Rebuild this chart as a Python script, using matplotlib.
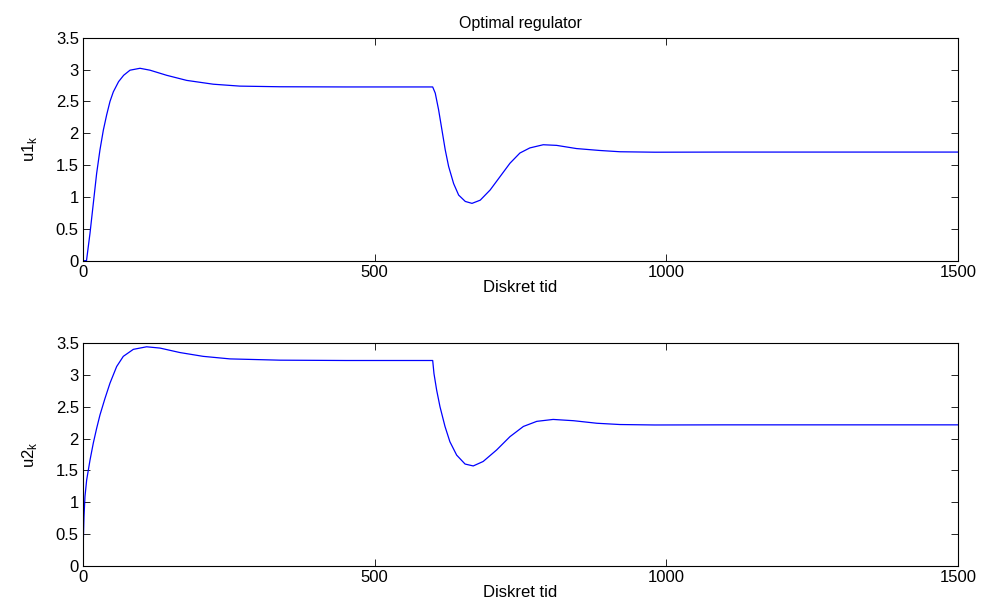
import matplotlib
matplotlib.use("Agg")
import matplotlib.pyplot as plt

plt.rcParams['font.family'] = ['Liberation Sans', 'DejaVu Sans']
plt.rcParams['font.size'] = 12

# values (discrete time k, control signal)
k1 = [0, 6, 12, 17.7, 23.4, 29.1, 34.9, 40.6, 46.3, 52, 61, 69.7, 80.6, 97.7, 114.9,
      143.4, 177.7, 223.4, 269, 337.7, 450, 599.5,
      603.9, 609.6, 615.4, 621, 626.8, 635.4, 644, 655.4, 666.9, 681, 698, 715, 732,
      749, 766, 789, 812, 846, 886, 920.6, 980, 1100, 1500]
u1 = [0, 0, 0.43, 0.90, 1.37, 1.74, 2.05, 2.29, 2.50, 2.65, 2.81, 2.91, 2.99, 3.02, 2.99,
      2.91, 2.83, 2.77, 2.74, 2.73, 2.727, 2.727,
      2.63, 2.37, 2.05, 1.74, 1.48, 1.21, 1.03, 0.93, 0.90, 0.95, 1.11, 1.32, 1.53,
      1.69, 1.77, 1.82, 1.81, 1.76, 1.73, 1.71, 1.703, 1.705, 1.705]

k2 = [0, 0.6, 1.7, 3.4, 6.3, 12, 17.7, 23.4, 29.1, 37.7, 46.3, 57.7, 69.1, 86.3, 109,
      132, 166, 206, 252, 337.7, 450, 599.5,
      601.7, 606.3, 612, 620.6, 629, 640.6, 655, 669, 686, 709, 732, 755, 778, 806,
      841, 881, 920.6, 980, 1100, 1500]
u2 = [0, 0.41, 0.77, 1.09, 1.35, 1.66, 1.93, 2.16, 2.37, 2.63, 2.87, 3.13, 3.29, 3.40, 3.44,
      3.42, 3.35, 3.29, 3.25, 3.23, 3.225, 3.225,
      3.02, 2.76, 2.50, 2.19, 1.95, 1.74, 1.60, 1.57, 1.64, 1.82, 2.03, 2.19, 2.27, 2.30,
      2.28, 2.24, 2.22, 2.213, 2.215, 2.215]

fig = plt.figure(figsize=(9.88, 6.08), dpi=100)
ax1 = fig.add_axes([0.084, 0.5712, 0.8856, 0.3668])
ax2 = fig.add_axes([0.084, 0.0691, 0.8856, 0.3668])

for ax, k, u, lab in [(ax1, k1, u1, r'u1$_\mathregular{k}$'), (ax2, k2, u2, r'u2$_\mathregular{k}$')]:
    ax.plot(k, u, color='#0000ff', linewidth=0.9)
    ax.set_xlim(0, 1500)
    ax.set_ylim(0, 3.5)
    ax.set_xticks([0, 500, 1000, 1500])
    ax.set_yticks([0, 0.5, 1, 1.5, 2, 2.5, 3, 3.5])
    ax.set_yticklabels(['0', '0.5', '1', '1.5', '2', '2.5', '3', '3.5'])
    ax.tick_params(direction='in', top=True, right=True, length=5, width=0.6, pad=3)
    for s in ax.spines.values():
        s.set_linewidth(0.8)
    ax.set_xlabel('Diskret tid', labelpad=0)
    ax.set_ylabel(lab, labelpad=12)

ax1.set_title('Optimal regulator', fontsize=11.5, pad=7)

fig.savefig('out.png', dpi=100)
